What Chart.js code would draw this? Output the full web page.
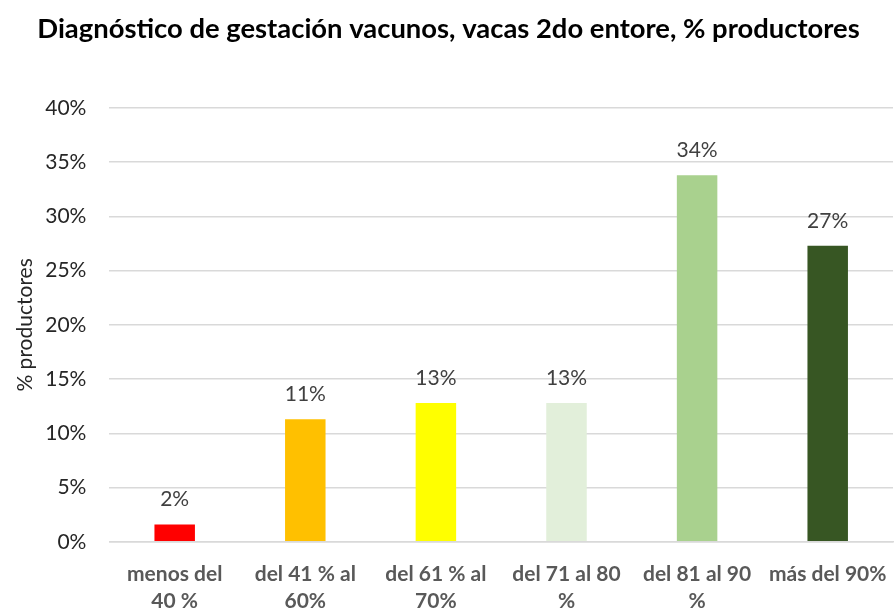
<!DOCTYPE html>
<html>
<head>
<meta charset="utf-8">
<script src="https://cdn.jsdelivr.net/npm/chart.js@4/dist/chart.umd.min.js"></script>
<style>
html,body{margin:0;padding:0;background:#fff;}
#wrap{width:895px;height:609px;position:relative;}
</style>
</head>
<body>
<div id="wrap"><canvas id="c"></canvas></div>
<script>
const categories = [
  ["menos del", "40 %"],
  ["del 41 % al", "60%"],
  ["del 61 % al", "70%"],
  ["del 71 al 80", "%"],
  ["del 81 al 90", "%"],
  ["más del 90%"]
];
const values = [1.6, 11.3, 12.8, 12.8, 33.8, 27.3];
const valueLabels = ["2%", "11%", "13%", "13%", "34%", "27%"];
const barColors = ["#FF0000", "#FFC000", "#FFFF00", "#E2EFDA", "#A9D18E", "#375623"];
const titleText = "Diagnóstico de gestación vacunos, vacas 2do entore, % productores";
const yTitle = "% productores";

const FONT = "Lato, 'Liberation Sans', sans-serif";

const dataLabelPlugin = {
  id: 'dataLabels',
  afterDatasetsDraw(chart) {
    const ctx = chart.ctx;
    const meta = chart.getDatasetMeta(0);
    ctx.save();
    ctx.font = "21px " + FONT;
    ctx.fillStyle = "#404040";
    ctx.textAlign = "center";
    ctx.textBaseline = "middle";
    meta.data.forEach((bar, i) => {
      ctx.fillText(valueLabels[i], bar.x, bar.y - 25);
    });
    ctx.restore();
  }
};

const titlePlugin = {
  id: 'customTitle',
  afterDraw(chart) {
    const ctx = chart.ctx;
    ctx.save();
    ctx.font = "bold 27.4px " + FONT;
    ctx.fillStyle = "#000000";
    ctx.textAlign = "center";
    ctx.textBaseline = "middle";
    ctx.fillText(titleText, 448.5, 29);
    ctx.restore();
  }
};

new Chart(document.getElementById('c'), {
  type: 'bar',
  data: {
    labels: categories,
    datasets: [{
      data: values,
      backgroundColor: barColors,
      borderWidth: 0,
      barPercentage: 0.31,
      categoryPercentage: 1.0
    }]
  },
  options: {
    responsive: true,
    maintainAspectRatio: false,
    animation: false,
    layout: { padding: { top: 108, right: 2, left: 13, bottom: -25 } },
    plugins: {
      legend: { display: false },
      tooltip: { enabled: false },
      title: { display: false }
    },
    scales: {
      x: {
        grid: { display: false, drawTicks: false },
        border: { display: true, color: "#D9D9D9", width: 1.5 },
        afterFit: (scale) => { scale.paddingLeft = 0; scale.paddingRight = 0; },
        ticks: {
          color: "#595959",
          font: { family: FONT, size: 21, weight: 'bold', lineHeight: 1.29 },
          padding: 19,
          maxRotation: 0,
          autoSkip: false
        }
      },
      y: {
        min: 0,
        max: 40,
        grid: { color: "#D9D9D9", lineWidth: 1.5, drawTicks: false },
        border: { display: false },
        ticks: {
          stepSize: 5,
          color: "#262626",
          font: { family: FONT, size: 21 },
          padding: 23,
          callback: v => v + "%"
        },
        title: {
          display: true,
          text: yTitle,
          color: "#262626",
          font: { family: FONT, size: 21 },
          padding: { top: 0, bottom: -16 }
        }
      }
    }
  },
  plugins: [dataLabelPlugin, titlePlugin]
});
</script>
</body>
</html>
